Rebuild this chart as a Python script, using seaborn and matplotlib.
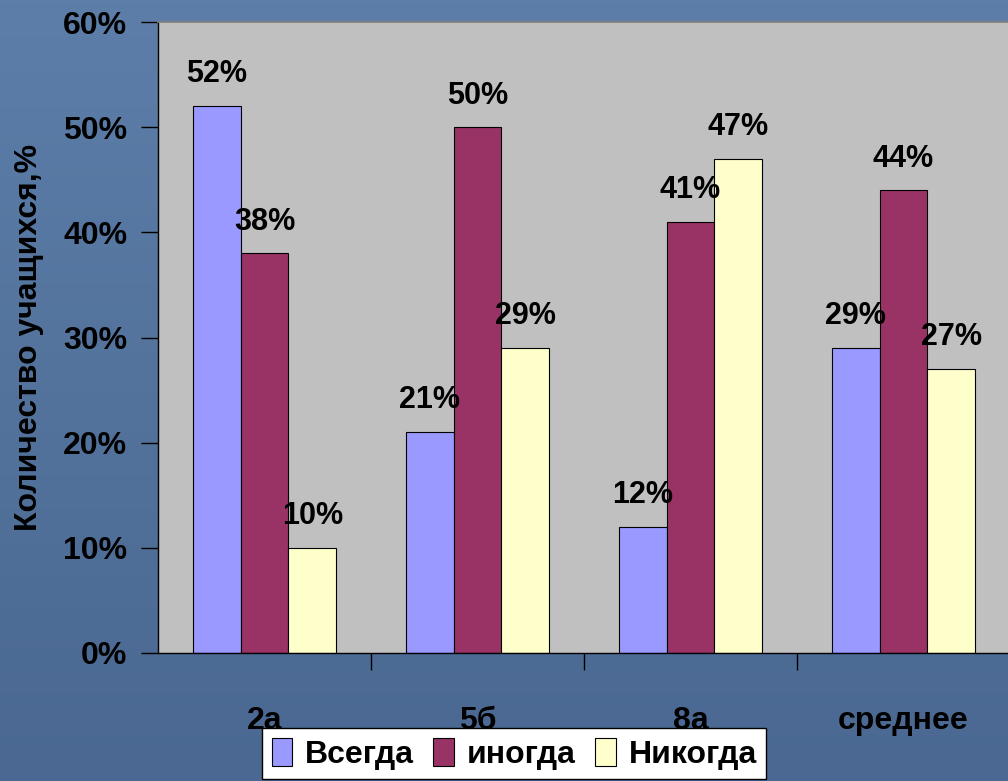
import numpy as np
import pandas as pd
import matplotlib
matplotlib.use("Agg")
import matplotlib.pyplot as plt
from matplotlib.ticker import FuncFormatter
import seaborn as sns

# data
classes = ['2а', '5б', '8а', 'среднее']
answers = ['Всегда', 'иногда', 'Никогда']
vsegda = [52, 21, 12, 29]
inogda = [38, 50, 41, 44]
nikogda = [10, 29, 47, 27]
yticks = [0, 10, 20, 30, 40, 50, 60]
colors = ['#9999FF', '#993366', '#FFFFCC']

df = pd.DataFrame({
    'class': classes * 3,
    'answer': [a for a in answers for _ in classes],
    'value': vsegda + inogda + nikogda,
})

sns.set_theme(style='white')
plt.rcParams['font.family'] = ['Liberation Sans', 'DejaVu Sans']
plt.rcParams['font.weight'] = 'bold'
plt.rcParams['text.color'] = 'black'
plt.rcParams['axes.labelcolor'] = 'black'
plt.rcParams['xtick.color'] = 'black'
plt.rcParams['ytick.color'] = 'black'

fig = plt.figure(figsize=(10.08, 7.81), dpi=100)

# slide-like blue background
bg = fig.add_axes([0, 0, 1, 1], zorder=-10)
grad = np.linspace(0, 1, 256).reshape(-1, 1)
bg.imshow(grad, aspect='auto', extent=[0, 1, 0, 1],
          cmap=matplotlib.colors.LinearSegmentedColormap.from_list('bg', ['#5C7EA8', '#4A6891']))
bg.axis('off')

ax = fig.add_axes([158 / 1008, 1 - 653 / 781, 852 / 1008, 631 / 781])
ax.set_facecolor('#C0C0C0')

sns.barplot(data=df, x='class', y='value', hue='answer', palette=colors, saturation=1,
            edgecolor='black', linewidth=0.8, width=0.675, ax=ax, legend=True)

for cont, vals in zip(ax.containers, [vsegda, inogda, nikogda]):
    ax.bar_label(cont, labels=[f'{v}%' for v in vals], padding=12,
                 fontsize=22, fontweight='bold', color='black')

ax.set_ylim(0, 60)
ax.set_xlim(-0.5, 3.5)
ax.set_yticks(yticks)
ax.yaxis.set_major_formatter(FuncFormatter(lambda v, p: f'{v:.0f}%'))
ax.tick_params(axis='y', direction='out', length=12, width=1, color='black',
               labelsize=23, pad=10, left=True, labelcolor='black')
ax.tick_params(axis='x', which='major', length=0, labelsize=23, pad=38, labelcolor='black')
ax.set_xticks([0.5, 1.5, 2.5], minor=True)
ax.tick_params(axis='x', which='minor', direction='out', length=12, width=1,
               color='black', bottom=True)
for lab in ax.get_xticklabels() + ax.get_yticklabels():
    lab.set_fontweight('bold')

ax.set_xlabel('')
ax.set_ylabel('Количество учащихся,%', fontsize=23, fontweight='bold', labelpad=14,
              color='black')

for s in ['left', 'bottom']:
    ax.spines[s].set_color('black')
    ax.spines[s].set_linewidth(1)
ax.spines['top'].set_color('#808080')
ax.spines['right'].set_visible(False)

handles, labels = ax.get_legend_handles_labels()
ax.legend_.remove()
leg = fig.legend(handles, labels, loc='upper left', ncol=3,
                 bbox_to_anchor=(262 / 1008, 1 - 728 / 781), bbox_transform=fig.transFigure,
                 fontsize=23, frameon=True, fancybox=False, edgecolor='black',
                 handlelength=0.65, handleheight=1.0, handletextpad=0.4,
                 columnspacing=0.6, borderpad=0.3, borderaxespad=0)
leg.get_frame().set_facecolor('white')
leg.get_frame().set_alpha(1)
for t in leg.get_texts():
    t.set_fontweight('bold')
    t.set_color('black')

fig.savefig('out.png', dpi=100)
